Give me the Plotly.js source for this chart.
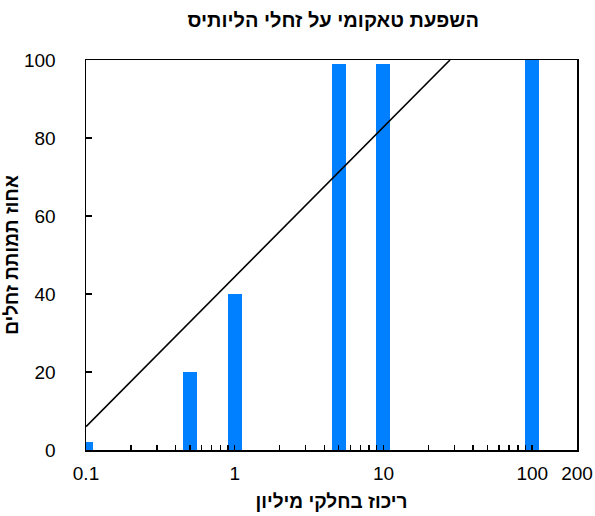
<!DOCTYPE html>
<html><head><meta charset="utf-8">
<script src="https://cdn.plot.ly/plotly-3.0.1.min.js"></script>
<style>body{margin:0;background:#fff}#c{width:595px;height:516px}</style>
</head><body><div id="c"></div>
<script>
const concentrations = [0.1, 0.5, 1, 5, 10, 100];
const mortality = [2, 20, 40, 99, 99, 100];
const trendX = [0.1, 28];
const trendY = [6, 100];
const tickVals = [0.1, 1, 10, 100, 200];
const tickText = ['0.1', '1', '10', '100', '200'];

// bar widths symmetric in log space (~14px)
const half = 0.047;
const offsets = concentrations.map(x => x * (Math.pow(10, -half) - 1));
const widths = concentrations.map(x => x * (Math.pow(10, half) - Math.pow(10, -half)));

const minorVals = [];
[0.1, 1, 10, 100].forEach(d => { for (let k = 2; k <= 9; k++) minorVals.push(d * k); });

const font = {family: 'Liberation Sans, Arial, sans-serif', color: '#000'};
const data = [
  {type: 'bar', x: concentrations, y: mortality, offset: offsets, width: widths,
   marker: {color: '#0080ff', line: {width: 0}}, hoverinfo: 'x+y'},
  {type: 'scatter', mode: 'lines', x: trendX, y: trendY,
   line: {color: '#000', width: 1.6}, hoverinfo: 'skip'}
];
const layout = {
  width: 595, height: 516,
  margin: {l: 86, r: 18, t: 60, b: 66},
  paper_bgcolor: '#fff', plot_bgcolor: '#fff',
  showlegend: false,
  font: Object.assign({size: 16}, font),
  title: {text: '<b>השפעת טאקומי על זחלי הליותיס</b>', x: 0.56, xanchor: 'center', y: 0.962, yanchor: 'middle',
          font: Object.assign({size: 20}, font)},
  xaxis: {type: 'log', range: [-1, Math.log10(200)], tickmode: 'array', tickvals: tickVals, ticktext: tickText,
          ticks: 'inside', ticklen: 5, tickwidth: 1.5, tickcolor: '#000', ticklabelstandoff: 6,
          minor: {tickmode: 'array', tickvals: minorVals, ticks: 'inside', ticklen: 5, tickwidth: 1.5, tickcolor: '#000', showgrid: false},
          showline: true, linecolor: '#000', linewidth: 1.5, mirror: true, showgrid: false, zeroline: false,
          tickfont: Object.assign({size: 19}, font),
          title: {text: '<b>ריכוז בחלקי מיליון</b>', font: Object.assign({size: 19}, font), standoff: 11}},
  yaxis: {range: [0, 100], dtick: 20, ticks: 'inside', ticklen: 6, tickwidth: 1.5, tickcolor: '#000', ticklabelstandoff: 25,
          showline: true, linecolor: '#000', linewidth: 1.5, mirror: true, showgrid: false, zeroline: false,
          tickfont: Object.assign({size: 19}, font),
          title: {text: '<b>אחוז תמותת זחלים</b>', font: Object.assign({size: 19}, font), standoff: 0}},
  bargap: 0
};
Plotly.newPlot('c', data, layout, {displayModeBar: false, staticPlot: true});
</script></body></html>
